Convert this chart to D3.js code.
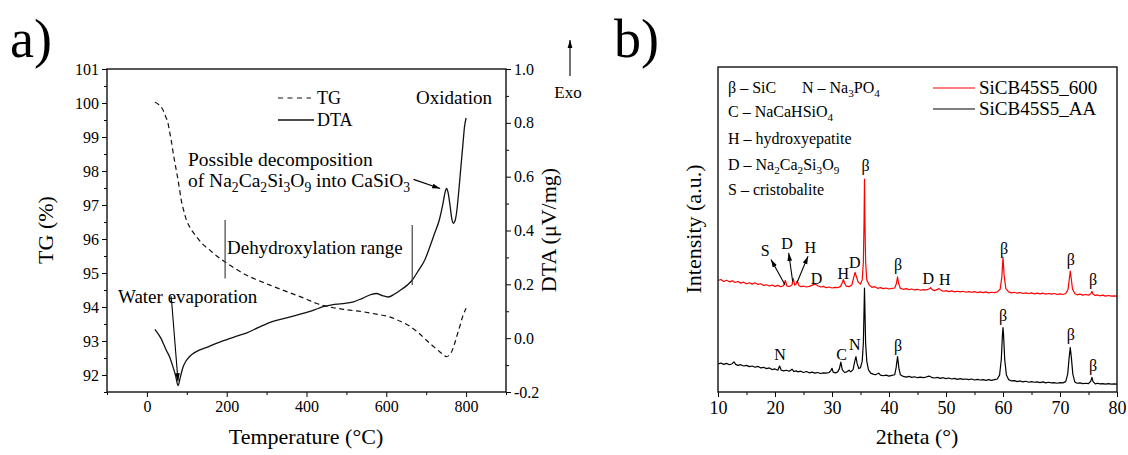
<!DOCTYPE html>
<html lang="en">
<head>
<meta charset="UTF-8">
<script src="https://d3js.org/d3.v7.min.js"></script>
<style>
  body { margin: 0; background: #fff; }
  svg, svg text { font-family: "Liberation Serif", "Times New Roman", serif; }
</style>
</head>
<body>
<svg id="chart" width="1128" height="455" font-family="Liberation Serif"></svg>
<script>
// ---- panel a: thermal analysis ----
var tempTicks = [0, 200, 400, 600, 800];
var tempMinor = [-100, 100, 300, 500, 700, 900];
var tgTicks = [92, 93, 94, 95, 96, 97, 98, 99, 100, 101];
var tgMinor = [91.5, 92.5, 93.5, 94.5, 95.5, 96.5, 97.5, 98.5, 99.5, 100.5];
var dtaTicks = [-0.2, 0, 0.2, 0.4, 0.6, 0.8, 1.0];
var dtaMinor = [-0.1, 0.1, 0.3, 0.5, 0.7, 0.9];

// [temperature °C, mass %]
var tg = [[20, 100.02], [30, 99.95], [40, 99.8], [47, 99.6], [53, 99.4], [57, 99.15], [61, 98.9],
  [65, 98.6], [69, 98.32], [74, 98.0], [78, 97.74], [82, 97.45], [86, 97.15], [92, 96.85],
  [99, 96.56], [110, 96.3], [124, 96.07], [140, 95.85], [157, 95.68], [175, 95.5], [195, 95.33],
  [220, 95.14], [249, 94.94], [278, 94.79], [307, 94.65], [340, 94.5], [374, 94.35], [400, 94.23],
  [424, 94.11], [458, 94.0], [500, 93.92], [541, 93.86], [575, 93.79], [608, 93.71], [635, 93.58],
  [658, 93.44], [680, 93.25], [700, 93.03], [718, 92.84], [733, 92.69], [743, 92.6], [750, 92.54],
  [757, 92.57], [762, 92.64], [770, 92.88], [779, 93.23], [786, 93.5], [791, 93.71], [796, 93.86],
  [800, 93.96]];

// [temperature °C, µV/mg]
var dta = [[20, 0.033], [35, 0.0], [48, -0.043], [57, -0.07], [65, -0.105], [72, -0.14], [78, -0.176],
  [83, -0.15], [90, -0.11], [98, -0.085], [107, -0.068], [115, -0.058], [124, -0.05], [150, -0.034],
  [174, -0.019], [200, -0.005], [225, 0.008], [249, 0.019], [280, 0.04], [316, 0.062], [350, 0.075],
  [391, 0.092], [420, 0.105], [441, 0.117], [464, 0.124], [490, 0.128], [518, 0.135], [540, 0.148],
  [563, 0.163], [575, 0.166], [590, 0.158], [605, 0.153], [620, 0.163], [640, 0.183], [655, 0.2],
  [666, 0.218], [680, 0.25], [697, 0.292], [708, 0.335], [720, 0.385], [733, 0.44], [742, 0.5],
  [747, 0.54], [751, 0.556], [755, 0.54], [760, 0.49], [764, 0.445], [768, 0.427], [772, 0.435],
  [776, 0.465], [780, 0.52], [787, 0.637], [792, 0.72], [796, 0.785], [800, 0.818]];

// dehydroxylation range markers [T, TG from, TG to]
var dehydro = [[196, 96.56, 94.84], [665, 96.41, 94.65]];

// ---- panel b: XRD ----
var thetaTicks = [10, 20, 30, 40, 50, 60, 70, 80];
var thetaMinor = [15, 25, 35, 45, 55, 65, 75];

// [2theta, intensity a.u.] (offset as plotted)
var xrd600 = [[10.0, 34.3], [10.5, 34.6], [11.0, 34.0], [11.5, 34.4], [12.0, 33.9], [12.5, 34.2],
  [13.0, 33.7], [13.5, 34.0], [14.0, 33.5], [14.5, 33.8], [15.0, 33.3], [15.5, 33.6], [16.0, 33.2],
  [16.5, 33.6], [17.0, 33.1], [17.5, 33.3], [18.0, 32.8], [18.5, 33.0], [19.0, 32.6], [19.5, 32.9],
  [20.0, 32.5], [20.5, 32.8], [21.0, 32.4], [21.5, 32.7], [21.8, 34.3], [22.1, 32.6], [22.6, 32.5],
  [23.0, 33.0], [23.2, 35.0], [23.45, 32.9], [23.7, 33.2], [23.9, 34.2], [24.2, 32.7], [24.6, 32.4],
  [25.0, 32.6], [25.5, 32.3], [26.0, 32.5], [26.5, 32.8], [27.0, 33.2], [27.5, 32.7], [28.0, 32.3],
  [28.5, 32.5], [29.0, 32.1], [29.5, 32.3], [30.0, 32.0], [30.5, 32.2], [31.0, 32.1], [31.5, 32.5],
  [31.8, 33.6], [32.0, 34.6], [32.2, 33.5], [32.5, 32.6], [33.0, 32.4], [33.5, 33.0], [33.8, 35.2],
  [34.05, 36.8], [34.3, 35.4], [34.6, 33.8], [35.0, 33.2], [35.3, 34.5], [35.5, 40.0], [35.62, 52.0],
  [35.7, 65.5], [35.78, 52.0], [35.9, 40.0], [36.1, 34.5], [36.5, 33.0], [37.0, 32.2], [37.5, 32.4],
  [38.0, 31.9], [38.5, 32.1], [39.0, 31.8], [39.5, 32.0], [40.0, 31.7], [40.5, 31.9], [41.0, 32.0],
  [41.3, 33.4], [41.5, 35.4], [41.7, 33.3], [42.0, 31.9], [42.5, 31.6], [43.0, 31.8], [43.5, 31.5],
  [44.0, 31.7], [44.5, 31.4], [45.0, 31.6], [45.5, 31.3], [46.0, 31.5], [46.5, 31.4], [47.0, 31.7],
  [47.3, 32.1], [47.6, 31.5], [48.0, 31.2], [48.4, 31.5], [48.8, 31.8], [49.2, 31.2], [49.6, 31.0],
  [50.0, 31.2], [50.5, 30.9], [51.0, 31.1], [51.5, 30.8], [52.0, 31.0], [52.5, 30.8], [53.0, 31.0],
  [53.5, 30.7], [54.0, 30.9], [54.5, 30.7], [55.0, 30.9], [55.5, 30.6], [56.0, 30.8], [56.5, 30.6],
  [57.0, 30.8], [57.5, 30.5], [58.0, 30.7], [58.5, 30.6], [59.0, 30.8], [59.5, 31.6], [59.8, 35.5],
  [60.0, 41.5], [60.2, 35.8], [60.5, 31.8], [61.0, 30.8], [61.5, 30.5], [62.0, 30.7], [62.5, 30.4],
  [63.0, 30.6], [63.5, 30.3], [64.0, 30.5], [64.5, 30.3], [65.0, 30.5], [65.5, 30.2], [66.0, 30.4],
  [66.5, 30.2], [67.0, 30.4], [67.5, 30.1], [68.0, 30.3], [68.5, 30.1], [69.0, 30.3], [69.5, 30.0],
  [70.0, 30.2], [70.5, 30.0], [71.0, 30.3], [71.4, 31.5], [71.65, 35.0], [71.8, 37.2], [71.95, 35.2],
  [72.2, 31.6], [72.6, 30.3], [73.0, 29.9], [73.5, 30.1], [74.0, 29.8], [74.5, 30.0], [75.0, 29.8],
  [75.4, 30.2], [75.6, 30.9], [75.8, 30.1], [76.2, 29.7], [76.5, 29.9], [77.0, 29.6], [77.5, 29.8],
  [78.0, 29.5], [78.5, 29.7], [79.0, 29.5], [79.5, 29.6], [80.0, 29.5]];

var xrdAA = [[10.0, 8.6], [10.5, 8.9], [11.0, 8.5], [11.5, 8.8], [12.0, 8.4], [12.5, 8.7], [12.8, 9.3],
  [13.1, 8.5], [13.5, 8.2], [14.0, 8.4], [14.5, 8.0], [15.0, 8.2], [15.5, 7.8], [16.0, 8.0], [16.5, 7.6],
  [17.0, 7.9], [17.5, 7.4], [18.0, 7.6], [18.5, 7.2], [19.0, 7.4], [19.5, 6.9], [20.0, 7.1], [20.5, 6.7],
  [20.8, 8.0], [21.1, 6.7], [21.5, 6.5], [22.0, 6.7], [22.5, 6.4], [23.0, 7.0], [23.3, 6.3], [23.7, 6.5],
  [24.0, 6.2], [24.5, 6.4], [25.0, 6.0], [25.5, 6.3], [26.0, 5.9], [26.5, 6.1], [27.0, 5.8], [27.5, 6.0],
  [28.0, 5.7], [28.5, 5.9], [29.0, 5.8], [29.5, 6.0], [29.8, 6.6], [30.0, 7.3], [30.2, 6.1], [30.6, 5.9],
  [31.0, 6.2], [31.3, 7.2], [31.55, 9.2], [31.8, 6.9], [32.2, 6.0], [32.6, 6.2], [33.0, 6.7], [33.3, 6.2],
  [33.7, 6.9], [34.0, 9.5], [34.2, 10.9], [34.4, 8.8], [34.7, 7.2], [35.0, 7.5], [35.3, 9.5], [35.5, 15.0],
  [35.62, 25.0], [35.7, 32.0], [35.78, 25.0], [35.9, 15.0], [36.1, 9.5], [36.4, 6.8], [36.8, 5.8],
  [37.2, 5.5], [37.6, 5.3], [38.0, 5.6], [38.2, 5.8], [38.5, 5.2], [39.0, 5.0], [39.5, 5.2], [40.0, 4.9],
  [40.5, 5.1], [41.0, 5.3], [41.25, 7.5], [41.5, 10.9], [41.75, 7.2], [42.0, 5.3], [42.5, 4.8], [43.0, 4.6],
  [43.5, 4.8], [44.0, 4.5], [44.5, 4.7], [45.0, 4.4], [45.5, 4.6], [46.0, 4.4], [46.5, 4.6], [47.0, 4.9],
  [47.3, 4.7], [47.6, 4.4], [48.0, 4.3], [48.5, 4.5], [49.0, 4.2], [49.5, 4.4], [50.0, 4.1], [50.5, 4.3],
  [51.0, 4.0], [51.5, 4.2], [52.0, 3.9], [52.5, 4.1], [53.0, 3.9], [53.5, 4.0], [54.0, 3.8], [54.5, 4.0],
  [55.0, 3.7], [55.5, 3.9], [56.0, 3.7], [56.5, 3.8], [57.0, 3.6], [57.5, 3.8], [58.0, 3.6], [58.5, 3.8],
  [59.0, 4.0], [59.4, 5.2], [59.7, 10.0], [59.9, 17.5], [60.0, 19.8], [60.1, 17.5], [60.3, 10.0],
  [60.6, 5.2], [61.0, 3.8], [61.5, 3.4], [62.0, 3.5], [62.5, 3.2], [63.0, 3.4], [63.5, 3.1], [64.0, 3.3],
  [64.5, 3.0], [65.0, 3.2], [65.5, 3.0], [66.0, 3.1], [66.5, 2.9], [67.0, 3.1], [67.5, 2.8], [68.0, 3.0],
  [68.5, 2.8], [69.0, 2.9], [69.5, 2.7], [70.0, 2.9], [70.5, 2.8], [71.0, 3.2], [71.35, 5.5], [71.6, 10.5],
  [71.8, 13.7], [72.0, 10.5], [72.25, 5.5], [72.6, 3.1], [73.0, 2.7], [73.5, 2.8], [74.0, 2.6], [74.5, 2.7],
  [75.0, 2.6], [75.4, 3.3], [75.6, 4.5], [75.8, 3.2], [76.2, 2.5], [76.6, 2.7], [77.0, 2.5], [77.5, 2.6],
  [78.0, 2.4], [78.5, 2.6], [79.0, 2.4], [79.5, 2.5], [80.0, 2.4]];

// phase labels [letter, 2theta, intensity]
var labels600 = [['D', 27.3, 35.0], ['H', 32.0, 36.5], ['D', 34.0, 39.8], ['β', 35.9, 69.8],
  ['β', 41.6, 39.1], ['D', 46.9, 35.0], ['H', 49.8, 34.7], ['β', 60.2, 44.1], ['β', 71.9, 40.7],
  ['β', 75.8, 34.5]];
var labelsAA = [['N', 20.9, 11.4], ['C', 31.7, 11.4], ['N', 34.0, 14.5], ['β', 41.6, 14.2],
  ['β', 60.0, 23.4], ['β', 71.9, 17.7], ['β', 75.8, 8.2]];
// arrowed labels [letter, label 2theta, label I, arrow from (2theta, I), arrow to (2theta, I)]
var arrowLabels = [['S', 18.3, 43.6, 21.75, 33.0, 19.3, 40.8], ['D', 22.1, 45.6, 23.1, 34.0, 22.4, 42.8],
  ['H', 26.2, 44.5, 23.85, 33.6, 25.8, 41.8]];

var phaseKey = [['β – SiC', 88], ['C – NaCaHSiO_4', 112], ['H – hydroxyepatite', 139],
  ['D – Na_2Ca_2Si_3O_9', 165], ['S – cristobalite', 190]];

var FONT = 'Liberation Serif';
var svg = d3.select('#chart');
svg.append('defs').append('marker').attr('id', 'arr')
  .attr('viewBox', '0 0 10 10').attr('refX', 10).attr('refY', 5)
  .attr('markerWidth', 8).attr('markerHeight', 8).attr('markerUnits', 'userSpaceOnUse')
  .attr('orient', 'auto')
  .append('path').attr('d', 'M0,2 L10,5 L0,8 Z').attr('fill', '#000');

// text with "_n" subscripts
function rich(sel, str, size) {
  var parts = str.match(/_\d|[^_]+/g);
  var shift = 0;
  sel.attr('font-family', FONT);
  parts.forEach(function(p) {
    var t = sel.append('tspan');
    if (p[0] === '_') {
      t.text(p.slice(1)).attr('font-size', size * 0.7).attr('dy', shift ? 0 : size * 0.28);
      shift = size * 0.28;
    } else {
      t.text(p).attr('dy', shift ? -shift : 0);
      shift = 0;
    }
  });
  return sel;
}

function styleAxis(g, size) {
  g.attr('font-family', FONT).attr('font-size', size).attr('color', '#000');
  g.select('.domain').remove();
}

// ================= panel a =================
var xA = d3.scaleLinear().domain([-100, 900]).range([107, 506]);
var yTG = d3.scaleLinear().domain([91.5, 101]).range([392, 69]);
var yDTA = d3.scaleLinear().domain([-0.2, 1.0]).range([392, 69]);

svg.append('text').attr('x', 10).attr('y', 57).attr('font-size', 54).text('a)');

var ga = svg.append('g').attr('font-family', FONT);
ga.append('g').attr('transform', 'translate(0,392)')
  .call(d3.axisBottom(xA).tickValues(tempTicks).tickSize(5).tickPadding(4))
  .call(styleAxis, 16);
ga.append('g').attr('transform', 'translate(0,392)')
  .call(d3.axisBottom(xA).tickValues(tempMinor).tickSize(3).tickFormat(''))
  .call(styleAxis, 16);
ga.append('g').attr('transform', 'translate(107,0)')
  .call(d3.axisLeft(yTG).tickValues(tgTicks).tickSize(5).tickPadding(3))
  .call(styleAxis, 16);
ga.append('g').attr('transform', 'translate(107,0)')
  .call(d3.axisLeft(yTG).tickValues(tgMinor).tickSize(3).tickFormat(''))
  .call(styleAxis, 16);
ga.append('g').attr('transform', 'translate(506,0)')
  .call(d3.axisRight(yDTA).tickValues(dtaTicks).tickSize(5).tickPadding(3)
    .tickFormat(function(d) { return d.toFixed(1); }))
  .call(styleAxis, 16);
ga.append('g').attr('transform', 'translate(506,0)')
  .call(d3.axisRight(yDTA).tickValues(dtaMinor).tickSize(3).tickFormat(''))
  .call(styleAxis, 16);
ga.append('rect').attr('x', 107).attr('y', 69).attr('width', 399).attr('height', 323)
  .attr('fill', 'none').attr('stroke', '#111').attr('stroke-width', 1.4);

var tgLine = d3.line().x(function(d) { return xA(d[0]); }).y(function(d) { return yTG(d[1]); })
  .curve(d3.curveMonotoneX);
var dtaLine = d3.line().x(function(d) { return xA(d[0]); }).y(function(d) { return yDTA(d[1]); })
  .curve(d3.curveMonotoneX);
ga.append('path').datum(tg).attr('d', tgLine).attr('fill', 'none').attr('stroke', '#111')
  .attr('stroke-width', 1.2).attr('stroke-dasharray', '5,3.5');
ga.append('path').datum(dta).attr('d', dtaLine).attr('fill', 'none').attr('stroke', '#111')
  .attr('stroke-width', 1.3);

ga.selectAll('line.dh').data(dehydro).enter().append('line').attr('class', 'dh')
  .attr('x1', function(d) { return xA(d[0]); }).attr('x2', function(d) { return xA(d[0]); })
  .attr('y1', function(d) { return yTG(d[1]); }).attr('y2', function(d) { return yTG(d[2]); })
  .attr('stroke', '#444').attr('stroke-width', 1.2);

// legend
ga.append('line').attr('x1', 278).attr('x2', 311).attr('y1', 98).attr('y2', 98)
  .attr('stroke', '#111').attr('stroke-width', 1.2).attr('stroke-dasharray', '5,4.5');
ga.append('line').attr('x1', 278).attr('x2', 314).attr('y1', 120).attr('y2', 120)
  .attr('stroke', '#111').attr('stroke-width', 1.3);
ga.append('text').attr('x', 317).attr('y', 104).attr('font-size', 18).text('TG');
ga.append('text').attr('x', 317).attr('y', 126).attr('font-size', 18).text('DTA');

// annotations
ga.append('text').attr('x', 416).attr('y', 104).attr('font-size', 19).text('Oxidation');
ga.append('text').attr('x', 188).attr('y', 166).attr('font-size', 19.5).text('Possible decomposition');
rich(ga.append('text').attr('x', 188).attr('y', 187).attr('font-size', 19.5), 'of Na_2Ca_2Si_3O_9 into CaSiO_3', 19.5);
ga.append('text').attr('x', 227).attr('y', 254).attr('font-size', 19).text('Dehydroxylation range');
ga.append('text').attr('x', 118).attr('y', 303).attr('font-size', 19).text('Water evaporation');
ga.append('line').attr('x1', xA(61)).attr('y1', yDTA(0.155)).attr('x2', xA(78)).attr('y2', yDTA(-0.16))
  .attr('stroke', '#000').attr('stroke-width', 1.1).attr('marker-end', 'url(#arr)');
ga.append('line').attr('x1', xA(668)).attr('y1', yDTA(0.59)).attr('x2', xA(735)).attr('y2', yDTA(0.556))
  .attr('stroke', '#000').attr('stroke-width', 1.1).attr('marker-end', 'url(#arr)');

// axis titles
ga.append('text').attr('transform', 'translate(45,230) rotate(-90)').attr('text-anchor', 'middle')
  .attr('dominant-baseline', 'central').attr('font-size', 22).text('TG (%)');
ga.append('text').attr('transform', 'translate(548,230) rotate(-90)').attr('text-anchor', 'middle')
  .attr('dominant-baseline', 'central').attr('font-size', 22).text('DTA (μV/mg)');
ga.append('text').attr('x', 306).attr('y', 444).attr('text-anchor', 'middle').attr('font-size', 22)
  .text('Temperature (°C)');
ga.append('line').attr('x1', 570).attr('x2', 570).attr('y1', 76).attr('y2', 40)
  .attr('stroke', '#000').attr('stroke-width', 1.1).attr('marker-end', 'url(#arr)');
ga.append('text').attr('x', 568).attr('y', 98).attr('text-anchor', 'middle').attr('font-size', 17).text('Exo');

// ================= panel b =================
var xB = d3.scaleLinear().domain([10, 80]).range([718, 1117]);
var yB = d3.scaleLinear().domain([0, 100]).range([392, 67]);

svg.append('text').attr('x', 614).attr('y', 57).attr('font-size', 54).text('b)');

var gb = svg.append('g').attr('font-family', FONT);
gb.append('g').attr('transform', 'translate(0,392)')
  .call(d3.axisBottom(xB).tickValues(thetaTicks).tickSize(5).tickPadding(4))
  .call(styleAxis, 18);
gb.append('g').attr('transform', 'translate(0,392)')
  .call(d3.axisBottom(xB).tickValues(thetaMinor).tickSize(3).tickFormat(''))
  .call(styleAxis, 18);

var xrdLine = d3.line().x(function(d) { return xB(d[0]); }).y(function(d) { return yB(d[1]); });
gb.append('path').datum(xrdAA).attr('d', xrdLine).attr('fill', 'none')
  .attr('stroke', '#000').attr('stroke-width', 1.2).attr('stroke-linejoin', 'round');
gb.append('path').datum(xrd600).attr('d', xrdLine).attr('fill', 'none')
  .attr('stroke', '#ff0000').attr('stroke-width', 1.2).attr('stroke-linejoin', 'round');

gb.append('rect').attr('x', 718).attr('y', 67).attr('width', 399).attr('height', 325)
  .attr('fill', 'none').attr('stroke', '#111').attr('stroke-width', 1.4);

gb.selectAll('text.pk').data(labels600.concat(labelsAA)).enter().append('text').attr('class', 'pk')
  .attr('x', function(d) { return xB(d[1]); }).attr('y', function(d) { return yB(d[2]); })
  .attr('text-anchor', 'middle').attr('dominant-baseline', 'central').attr('font-size', 16)
  .text(function(d) { return d[0]; });
gb.selectAll('text.ak').data(arrowLabels).enter().append('text').attr('class', 'ak')
  .attr('x', function(d) { return xB(d[1]); }).attr('y', function(d) { return yB(d[2]); })
  .attr('text-anchor', 'middle').attr('dominant-baseline', 'central').attr('font-size', 16)
  .text(function(d) { return d[0]; });
gb.selectAll('line.ak').data(arrowLabels).enter().append('line').attr('class', 'ak')
  .attr('x1', function(d) { return xB(d[3]); }).attr('y1', function(d) { return yB(d[4]); })
  .attr('x2', function(d) { return xB(d[5]); }).attr('y2', function(d) { return yB(d[6]); })
  .attr('stroke', '#000').attr('stroke-width', 1.1).attr('marker-end', 'url(#arr)');

// phase key
phaseKey.forEach(function(k) {
  rich(gb.append('text').attr('x', 728).attr('y', k[1] + 5).attr('font-size', 16), k[0], 16);
});
rich(gb.append('text').attr('x', 802).attr('y', 93).attr('font-size', 16), 'N – Na_3PO_4', 16);

// legend
gb.append('line').attr('x1', 933).attr('x2', 975).attr('y1', 88).attr('y2', 88)
  .attr('stroke', '#ff0000').attr('stroke-width', 1.2);
gb.append('line').attr('x1', 933).attr('x2', 975).attr('y1', 109).attr('y2', 109)
  .attr('stroke', '#000').attr('stroke-width', 1.2);
gb.append('text').attr('x', 979).attr('y', 94).attr('font-size', 19).text('SiCB45S5_600');
gb.append('text').attr('x', 979).attr('y', 115).attr('font-size', 19).text('SiCB45S5_AA');

gb.append('text').attr('transform', 'translate(693,229) rotate(-90)').attr('text-anchor', 'middle')
  .attr('dominant-baseline', 'central').attr('font-size', 22).text('Intensity (a.u.)');
gb.append('text').attr('x', 917).attr('y', 444).attr('text-anchor', 'middle').attr('font-size', 22)
  .text('2theta (°)');
</script>
</body>
</html>
